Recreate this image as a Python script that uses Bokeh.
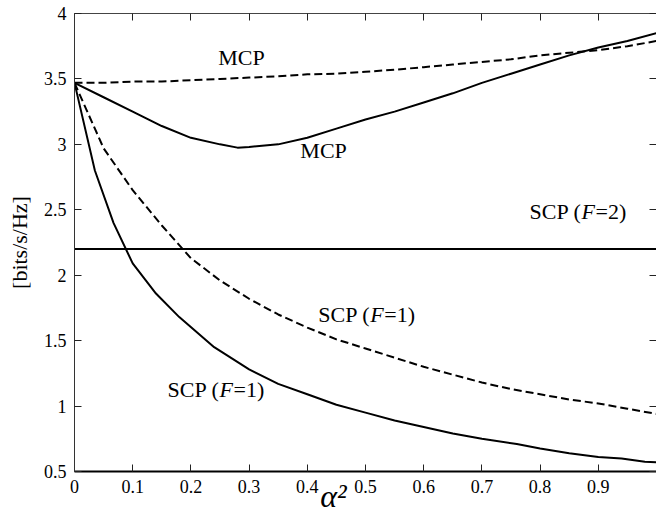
from bokeh.plotting import figure
from bokeh.models import LinearAxis, Range1d, Label, FixedTicker
from bokeh.embed import file_html
from bokeh.resources import INLINE

# ---- data ----
mcp_dash_x = [0, 0.05, 0.1, 0.15, 0.2, 0.25, 0.3, 0.35, 0.4, 0.45, 0.5, 0.55, 0.6,
              0.65, 0.7, 0.75, 0.8, 0.85, 0.9, 0.95, 1.0]
mcp_dash_y = [3.47, 3.47, 3.48, 3.48, 3.49, 3.50, 3.51, 3.52, 3.535, 3.54, 3.555, 3.57, 3.59,
              3.61, 3.63, 3.65, 3.68, 3.70, 3.72, 3.75, 3.79]

mcp_solid_x = [0, 0.05, 0.1, 0.15, 0.2, 0.25, 0.28, 0.3, 0.35, 0.4, 0.45, 0.5, 0.55, 0.6,
               0.65, 0.7, 0.75, 0.8, 0.85, 0.9, 0.95, 1.0]
mcp_solid_y = [3.47, 3.36, 3.25, 3.14, 3.05, 3.00, 2.975, 2.98, 3.00, 3.05, 3.12, 3.19, 3.25, 3.32,
               3.39, 3.47, 3.54, 3.61, 3.68, 3.74, 3.79, 3.85]

scp1_dash_x = [0, 0.05, 0.1, 0.15, 0.2, 0.25, 0.3, 0.35, 0.4, 0.45, 0.5, 0.55, 0.6,
               0.65, 0.7, 0.75, 0.8, 0.85, 0.9, 0.95, 1.0]
scp1_dash_y = [3.47, 2.97, 2.65, 2.38, 2.13, 1.96, 1.82, 1.70, 1.60, 1.51, 1.44, 1.37, 1.30,
               1.24, 1.18, 1.13, 1.09, 1.05, 1.02, 0.98, 0.94]

scp1_solid_x = [0, 0.035, 0.067, 0.1, 0.14, 0.18, 0.24, 0.3, 0.35, 0.4, 0.45, 0.5, 0.55,
                0.6, 0.65, 0.7, 0.76, 0.8, 0.85, 0.9, 0.94, 0.98, 1.0]
scp1_solid_y = [3.47, 2.80, 2.40, 2.09, 1.86, 1.68, 1.45, 1.28, 1.17, 1.09, 1.01, 0.95, 0.89,
                0.84, 0.79, 0.75, 0.71, 0.675, 0.64, 0.61, 0.60, 0.575, 0.57]

scp2_x = [0, 1]
scp2_y = [2.2, 2.2]

x_ticks = [0, 0.1, 0.2, 0.3, 0.4, 0.5, 0.6, 0.7, 0.8, 0.9]
x_tick_labels = ["0", "0.1", "0.2", "0.3", "0.4", "0.5", "0.6", "0.7", "0.8", "0.9"]
y_ticks = [0.5, 1, 1.5, 2, 2.5, 3, 3.5, 4]
y_tick_labels = ["0.5", "1", "1.5", "2", "2.5", "3", "3.5", "4"]

FONT = "Liberation Serif"

p = figure(width=656, height=519, x_range=Range1d(0, 1), y_range=Range1d(0.5, 4),
           output_backend="svg", toolbar_location=None,
           min_border_left=74, min_border_right=0, min_border_top=13, min_border_bottom=48,
           x_axis_location=None, y_axis_location=None)
p.xgrid.grid_line_color = None
p.ygrid.grid_line_color = None
p.outline_line_color = None
p.background_fill_color = "white"
p.border_fill_color = "white"


def style_axis(ax, ticks, labels, show_labels, line_color, line_width):
    ax.ticker = FixedTicker(ticks=ticks)
    ax.major_tick_in = 7
    ax.major_tick_out = 0
    ax.minor_tick_line_color = None
    ax.major_tick_line_color = "#222222"
    ax.axis_line_color = line_color
    ax.axis_line_width = line_width
    ax.major_label_text_font = FONT
    if show_labels:
        ax.major_label_overrides = {t: l for t, l in zip(ticks, labels)}
        ax.major_label_text_color = "black"
        ax.major_label_text_font_size = "18px"
        ax.major_label_standoff = 8
    else:
        ax.major_label_text_color = None
        ax.major_label_text_font_size = "1px"
        ax.major_label_standoff = 0


bottom = LinearAxis(axis_label="\u03b1\u00b2" + "\u00a0" * 8)
style_axis(bottom, x_ticks, x_tick_labels, True, "black", 2)
bottom.axis_label_text_font = FONT
bottom.axis_label_text_font_style = "italic"
bottom.axis_label_text_font_size = "32px"
bottom.axis_label_text_color = "black"
bottom.axis_label_standoff = -18
p.add_layout(bottom, "below")

left = LinearAxis(axis_label="[bits/s/Hz]")
style_axis(left, y_ticks, y_tick_labels, True, "#333333", 1)
left.axis_label_text_font = FONT
left.axis_label_text_font_style = "normal"
left.axis_label_text_font_size = "22px"
left.axis_label_text_color = "black"
left.axis_label_standoff = 9
p.add_layout(left, "left")

top = LinearAxis()
style_axis(top, x_ticks, x_tick_labels, False, "#444444", 1)
p.add_layout(top, "above")

right = LinearAxis()
style_axis(right, y_ticks, y_tick_labels, False, None, 1)
p.add_layout(right, "right")

# curves
p.line(mcp_dash_x, mcp_dash_y, line_color="black", line_width=2, line_dash="8 4")
p.line(mcp_solid_x, mcp_solid_y, line_color="black", line_width=2)
p.line(scp1_dash_x, scp1_dash_y, line_color="black", line_width=2, line_dash="8 4")
p.line(scp1_solid_x, scp1_solid_y, line_color="black", line_width=2)
p.line(scp2_x, scp2_y, line_color="black", line_width=2)


def lab(x, y, text, xo=0, style="normal", size="22px"):
    p.add_layout(Label(x=x, y=y, text=text, x_offset=xo, text_font=FONT,
                       text_font_size=size, text_font_style=style,
                       text_align="left", text_baseline="alphabetic",
                       text_color="black"))


def scp_label(x, y, n):
    lab(x, y, "SCP (")
    lab(x, y, "F", xo=52, style="italic")
    lab(x, y, "=" + n + ")", xo=66)


lab(0.247, 3.66, "MCP")
lab(0.388, 2.95, "MCP")
scp_label(0.782, 2.49, "2")
scp_label(0.419, 1.70, "1")
scp_label(0.160, 1.125, "1")

open("out.html", "w").write(file_html(p, INLINE))
